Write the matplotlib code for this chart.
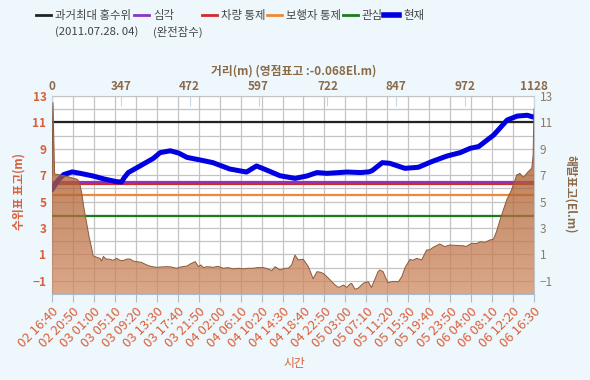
import numpy as np
import matplotlib
matplotlib.use("Agg")
import matplotlib.pyplot as plt
from matplotlib.lines import Line2D
from matplotlib.colors import LinearSegmentedColormap

plt.rcParams['font.family'] = ['Noto Sans CJK KR', 'DejaVu Sans']

BG = "#eef7fb"
ORANGE_TXT = "#d9603b"
BROWN_TXT = "#8b6a4a"
RIGHT_TXT = "#8b7a6b"
GRID = "#c4c4c4"

# ---- water level (현재), "DD HH:MM" ----
wl_time = ["02 16:40", "02 17:50", "02 19:00", "02 20:40", "02 22:10", "03 00:50",
           "03 03:10", "03 05:30", "03 06:30", "03 07:00", "03 07:50", "03 10:10",
           "03 12:50", "03 14:10", "03 16:10", "03 17:50", "03 19:30", "03 21:30",
           "03 22:10", "04 00:40", "04 04:00", "04 07:20", "04 09:20", "04 11:20",
           "04 14:00", "04 17:00", "04 19:20", "04 21:20", "04 23:20", "05 03:20",
           "05 06:00", "05 07:40", "05 08:20", "05 10:20", "05 11:50", "05 14:50",
           "05 17:30", "05 20:10", "05 23:10", "06 01:50", "06 03:50", "06 05:30",
           "06 08:30", "06 11:10", "06 13:10", "06 15:10", "06 16:30"]
wl_value = [5.9, 6.6, 7.05, 7.25, 7.15, 6.94,
            6.7, 6.51, 6.48, 6.8, 7.2, 7.7,
            8.28, 8.71, 8.85, 8.68, 8.35, 8.2,
            8.15, 7.95, 7.47, 7.24, 7.7, 7.39,
            6.96, 6.76, 6.94, 7.2, 7.14, 7.24,
            7.2, 7.25, 7.35, 7.95, 7.9, 7.52,
            7.6, 8.03, 8.45, 8.71, 9.04, 9.17,
            10.05, 11.18, 11.48, 11.54, 11.39]

time_ticks = ["02 16:40", "02 20:50", "03 01:00", "03 05:10", "03 09:20", "03 13:30",
              "03 17:40", "03 21:50", "04 02:00", "04 06:10", "04 10:20", "04 14:30",
              "04 18:40", "04 22:50", "05 03:00", "05 07:10", "05 11:20", "05 15:30",
              "05 19:40", "05 23:50", "06 04:00", "06 08:10", "06 12:20", "06 16:30"]

# ---- alert levels ----
level_names = [["과거최대 홍수위", "(2011.07.28. 04)"], ["심각", "(완전잠수)"],
               ["차량 통제"], ["보행자 통제"], ["관심"]]
level_values = [11.0, 6.5, 6.3, 5.5, 3.9]
level_colors = ["#222222", "#8a35c8", "#d42a2a", "#ee8a35", "#1f7a1f"]
current_name = "현재"
current_color = "#0000e0"

# ---- ground profile (distance m, elevation El.m) ----
dist_ticks = [0, 347, 472, 597, 722, 847, 972, 1128]
ground_dist = [0, 5, 13, 15, 66, 107, 126, 138, 150, 161, 175, 186, 200, 207, 217,
               242, 250, 259, 272, 292, 307, 326, 343, 351, 358, 364, 369, 376, 384,
               394, 402, 412, 420, 430, 438, 448, 456, 467, 474, 482, 488, 492, 497,
               503, 509, 515, 523, 533, 542, 551, 560, 569, 578, 587, 596, 606, 614,
               621, 627, 636, 645, 651, 657, 663, 669, 678, 687, 692, 696, 703, 709,
               715, 724, 730, 736, 742, 745, 751, 757, 763, 766, 772, 778, 787, 790,
               796, 802, 808, 814, 817, 823, 828, 832, 841, 851, 857, 863, 872, 877,
               884, 893, 902, 908, 914, 926, 935, 944, 957, 969, 974, 987, 998, 1006,
               1017, 1028, 1036, 1043, 1051, 1066, 1077, 1089, 1096, 1104, 1115, 1123,
               1126, 1128]
ground_elev = [7.0, 12.5, 7.2, 7.09, 6.95, 6.77, 6.7, 6.5, 5.63, 4.5, 3.35, 2.4, 1.46,
               0.9, 0.83, 0.7, 0.5, 0.85, 0.65, 0.63, 0.55, 0.7, 0.55, 0.52, 0.65, 0.65,
               0.5, 0.45, 0.4, 0.2, 0.08, 0.02, 0.05, 0.07, 0.05, -0.05, 0.05, 0.12, 0.3,
               0.45, 0.07, 0.2, 0.0, 0.07, 0.05, 0.02, 0.1, -0.05, 0.0, -0.1, -0.05, -0.1,
               -0.05, -0.05, 0.0, 0.0, -0.1, -0.23, 0.07, -0.18, -0.05, -0.05, 0.2, 0.95,
               0.58, 0.63, 0.1, -0.4, -0.85, -0.31, -0.35, -0.45, -0.81, -1.07, -1.32,
               -1.5, -1.45, -1.32, -1.5, -1.24, -1.2, -1.64, -1.55, -1.2, -1.14, -1.07,
               -1.5, -0.9, -0.3, -0.18, -0.3, -0.8, -1.14, -1.05, -1.07, -0.68, 0.0,
               0.63, 0.55, 0.7, 0.58, 1.33, 1.35, 1.54, 1.79, 1.59, 1.71, 1.68, 1.65,
               1.6, 1.84, 1.82, 1.96, 1.92, 2.09, 2.15, 2.72, 3.6, 5.12, 5.88, 7.02,
               7.14, 6.84, 7.27, 7.52, 8.5, 12.0]


def to_min(s):
    d, hm = s.split()
    h, m = hm.split(":")
    return int(d) * 1440 + int(h) * 60 + int(m)


t0 = to_min(time_ticks[0])
wl_x = [to_min(s) - t0 for s in wl_time]
tick_x = [to_min(s) - t0 for s in time_ticks]

fig = plt.figure(figsize=(5.9, 3.8), dpi=100, facecolor=BG)
ax = fig.add_axes([52 / 590, 1 - 294 / 380, 482 / 590, 198 / 380])
ax.set_facecolor("white")
ax.set_xlim(tick_x[0], tick_x[-1])
ax.set_ylim(-2, 13)
ax.set_xticks(tick_x)
ax.set_xticklabels(time_ticks, rotation=45, ha="right", rotation_mode="anchor")
ax.set_yticks([13, 11, 9, 7, 5, 3, 1, -1])
ax.set_yticks(range(-2, 14), minor=True)
ax.grid(True, which="both", color=GRID, lw=0.9)
ax.tick_params(axis="x", direction="out", length=6, color="#aabdcc",
               labelcolor=ORANGE_TXT, labelsize=9.5, pad=2)
ax.tick_params(axis="y", which="both", length=0, labelcolor=ORANGE_TXT,
               labelsize=8.5, pad=4)
for lb in ax.get_yticklabels():
    lb.set_fontweight("bold")
for side in ("left", "bottom"):
    ax.spines[side].set_color("#aabdcc")
for side in ("top", "right"):
    ax.spines[side].set_color(GRID)

for v, c in zip(level_values, level_colors):
    ax.axhline(v, color=c, lw=1.6, zorder=3)
ax.plot(wl_x, wl_value, color=current_color, lw=3.6, solid_capstyle="round",
        solid_joinstyle="round", zorder=4)

# right axis
ax3 = ax.twinx()
ax3.set_ylim(-2, 13)
ax3.set_yticks([13, 11, 9, 7, 5, 3, 1, -1])
ax3.tick_params(axis="y", length=0, labelcolor=RIGHT_TXT, labelsize=8.5, pad=4)
for sp in ax3.spines.values():
    sp.set_visible(False)

# top distance axis with ground profile
ax2 = ax.twiny()
fwd = lambda d: np.interp(d, dist_ticks, np.arange(len(dist_ticks)))
inv = lambda i: np.interp(i, np.arange(len(dist_ticks)), dist_ticks)
ax2.set_xscale("function", functions=(fwd, inv))
ax2.set_xlim(dist_ticks[0], dist_ticks[-1])
ax2.set_ylim(-2, 13)
ax2.set_xticks(dist_ticks)
ax2.set_xticklabels([str(d) for d in dist_ticks])
ax2.tick_params(axis="x", direction="in", length=7, color="#c8d6e2",
                labelcolor=BROWN_TXT, labelsize=8.5, pad=2.5)
for lb in ax2.get_xticklabels():
    lb.set_fontweight("bold")
for sp in ax2.spines.values():
    sp.set_visible(False)

poly = ax2.fill_between(ground_dist, ground_elev, -2, facecolor="none",
                        edgecolor="none")
cmap = LinearSegmentedColormap.from_list("ground", ["#cf8b63", "#96400b"])
grad = np.linspace(1, 0, 256).reshape(-1, 1)
im = ax2.imshow(grad, cmap=cmap, aspect="auto", extent=(0, 1, 0, 1),
                transform=ax2.transAxes, alpha=0.75, zorder=2)
im.set_clip_path(poly.get_paths()[0], transform=ax2.transData)
ax2.plot(ground_dist, ground_elev, color="#8c5a3a", lw=0.7, zorder=3)
ax2.set_xlim(dist_ticks[0], dist_ticks[-1])
ax2.set_ylim(-2, 13)

# axis titles
fig.text(294 / 590, 1 - 71 / 380, "거리(m) (영점표고 :-0.068El.m)", color=BROWN_TXT,
         fontsize=8.5, fontweight="bold", ha="center", va="center")
fig.text(19 / 590, 1 - 191 / 380, "수위표 표고(m)", color=ORANGE_TXT, fontsize=8.5,
         fontweight="bold", rotation=90, ha="center", va="center")
fig.text(570 / 590, 1 - 194 / 380, "해발표고(El.m)", color=BROWN_TXT, fontsize=8.5,
         fontweight="bold", rotation=270, ha="center", va="center")
fig.text(294 / 590, 1 - 364 / 380, "시간", color=ORANGE_TXT, fontsize=8.5,
         ha="center", va="center")

# legend row
key_x = [36, 134, 202, 267, 343, 384]
names = level_names + [[current_name]]
colors = level_colors + [current_color]
for i, (x0, nm, c) in enumerate(zip(key_x, names, colors)):
    lw = 4 if i == len(names) - 1 else 2
    fig.add_artist(Line2D([x0 / 590, (x0 + 15) / 590], [1 - 15 / 380] * 2,
                          transform=fig.transFigure, color=c, lw=lw))
    for j, line in enumerate(nm):
        fig.text((x0 + 19) / 590, 1 - (15 + 17 * j) / 380, line, color="#444444",
                 fontsize=8.2, ha="left", va="center")

fig.savefig("out.png", dpi=100, facecolor=BG)
